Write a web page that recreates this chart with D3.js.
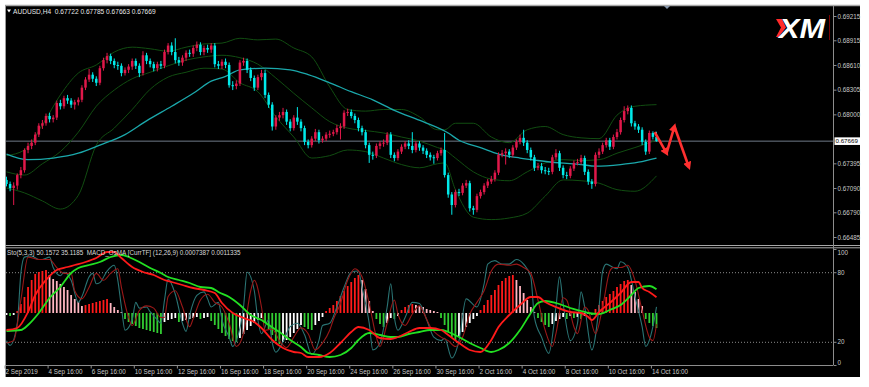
<!DOCTYPE html>
<html>
<head>
<meta charset="utf-8">
<script src="https://cdn.jsdelivr.net/npm/d3@7"></script>
<style>
body { margin: 0; background: #fff; }
svg { display: block; font-family: "Liberation Sans", Arial, sans-serif; }
</style>
</head>
<body>
<svg id="chart" width="869" height="387"></svg>
<script>
// AUDUSD H4 candles, 2 Sep 2019 16:00 .. 14 Oct 2019 20:00 (182 bars)

var firstOpen = 0.6719;

var closes = [
  0.6714,0.6709,0.6712,0.6725,0.6731,0.6756,0.6761,0.6765,0.6775,0.6786,
  0.6789,0.6798,0.6794,0.6796,0.6814,0.6810,0.6820,0.6817,0.6812,0.6815,
  0.6818,0.6833,0.6843,0.6849,0.6844,0.6839,0.6857,0.6867,0.6872,0.6866,
  0.6861,0.6860,0.6851,0.6855,0.6859,0.6866,0.6860,0.6851,0.6873,0.6866,
  0.6862,0.6857,0.6862,0.6860,0.6877,0.6885,0.6877,0.6867,0.6864,0.6870,
  0.6876,0.6875,0.6882,0.6886,0.6877,0.6882,0.6880,0.6885,0.6862,0.6860,
  0.6865,0.6861,0.6836,0.6835,0.6838,0.6864,0.6866,0.6855,0.6845,0.6833,
  0.6846,0.6851,0.6824,0.6812,0.6785,0.6796,0.6799,0.6803,0.6791,0.6783,
  0.6796,0.6791,0.6783,0.6766,0.6762,0.6770,0.6778,0.6768,0.6770,0.6775,
  0.6776,0.6778,0.6783,0.6785,0.6802,0.6803,0.6798,0.6793,0.6783,0.6778,
  0.6762,0.6750,0.6749,0.6761,0.6764,0.6765,0.6775,0.6750,0.6746,0.6754,
  0.6760,0.6764,0.6761,0.6756,0.6764,0.6759,0.6755,0.6750,0.6747,0.6746,
  0.6752,0.6756,0.6725,0.6701,0.6688,0.6704,0.6703,0.6712,0.6715,0.6684,
  0.6682,0.6699,0.6704,0.6712,0.6717,0.6720,0.6728,0.6750,0.6752,0.6754,
  0.6750,0.6759,0.6766,0.6771,0.6765,0.6756,0.6747,0.6734,0.6736,0.6731,
  0.6730,0.6729,0.6747,0.6752,0.6734,0.6725,0.6724,0.6733,0.6740,0.6741,
  0.6746,0.6729,0.6717,0.6714,0.6750,0.6754,0.6762,0.6768,0.6760,0.6772,
  0.6778,0.6793,0.6804,0.6808,0.6789,0.6785,0.6781,0.6766,0.6754,0.6777,
  0.67722,0.67669
];

var highs = [
  0.6723,0.6717,0.6716,0.6727,0.6735,0.6758,0.6765,0.6769,0.6778,0.6789,
  0.6793,0.6801,0.6802,0.6799,0.6817,0.6818,0.6823,0.6824,0.6820,0.6818,
  0.6821,0.6836,0.6846,0.6856,0.6852,0.6847,0.6860,0.6870,0.6876,0.6875,
  0.6869,0.6865,0.6863,0.6858,0.6862,0.6869,0.6869,0.6863,0.6878,0.6876,
  0.6869,0.6865,0.6865,0.6866,0.6880,0.6888,0.6889,0.6894,0.6871,0.6873,
  0.6879,0.6880,0.6885,0.6890,0.6889,0.6885,0.6886,0.6888,0.6888,0.6866,
  0.6868,0.6869,0.6864,0.6841,0.6842,0.6867,0.6870,0.6869,0.6858,0.6848,
  0.6849,0.6855,0.6855,0.6827,0.6815,0.6799,0.6803,0.6808,0.6806,0.6794,
  0.6799,0.6809,0.6794,0.6786,0.6769,0.6773,0.6782,0.6781,0.6773,0.6778,
  0.6780,0.6781,0.6787,0.6789,0.6805,0.6807,0.6806,0.6801,0.6796,0.6786,
  0.6781,0.6765,0.6754,0.6764,0.6767,0.6769,0.6778,0.6778,0.6753,0.6757,
  0.6763,0.6767,0.6768,0.6778,0.6767,0.6767,0.6762,0.6758,0.6753,0.6750,
  0.6755,0.6759,0.6777,0.6728,0.6704,0.6707,0.6708,0.6715,0.6719,0.6718,
  0.6687,0.6702,0.6707,0.6715,0.6720,0.6724,0.6731,0.6753,0.6756,0.6758,
  0.6757,0.6762,0.6769,0.6775,0.6781,0.6768,0.6759,0.6750,0.6740,0.6740,
  0.6735,0.6734,0.6750,0.6757,0.6755,0.6737,0.6729,0.6736,0.6743,0.6745,
  0.6750,0.6749,0.6732,0.6720,0.6753,0.6758,0.6765,0.6771,0.6771,0.6775,
  0.6782,0.6796,0.6810,0.6811,0.6811,0.6792,0.6788,0.6784,0.6769,0.6780,
  0.6779,0.67785
];

var lows = [
  0.6711,0.6705,0.6688,0.6707,0.6721,0.6728,0.6752,0.6757,0.6762,0.6772,
  0.6782,0.6786,0.6790,0.6790,0.6793,0.6806,0.6807,0.6813,0.6808,0.6806,
  0.6811,0.6815,0.6830,0.6840,0.6840,0.6835,0.6836,0.6854,0.6863,0.6862,
  0.6857,0.6855,0.6847,0.6848,0.6851,0.6855,0.6856,0.6846,0.6848,0.6862,
  0.6858,0.6853,0.6853,0.6856,0.6857,0.6874,0.6873,0.6863,0.6860,0.6860,
  0.6866,0.6871,0.6871,0.6878,0.6873,0.6873,0.6876,0.6876,0.6858,0.6856,
  0.6856,0.6857,0.6833,0.6830,0.6831,0.6835,0.6860,0.6851,0.6841,0.6829,
  0.6830,0.6842,0.6820,0.6808,0.6780,0.6781,0.6792,0.6795,0.6787,0.6779,
  0.6780,0.6787,0.6779,0.6762,0.6758,0.6759,0.6767,0.6764,0.6765,0.6767,
  0.6771,0.6773,0.6775,0.6769,0.6782,0.6798,0.6795,0.6789,0.6779,0.6774,
  0.6758,0.6740,0.6744,0.6746,0.6757,0.6760,0.6762,0.6746,0.6742,0.6743,
  0.6751,0.6757,0.6757,0.6752,0.6753,0.6755,0.6751,0.6746,0.6743,0.6739,
  0.6743,0.6749,0.6722,0.6697,0.6676,0.6685,0.6699,0.6700,0.6709,0.6680,
  0.6676,0.6679,0.6696,0.6701,0.6709,0.6714,0.6717,0.6725,0.6747,0.6738,
  0.6746,0.6747,0.6756,0.6763,0.6761,0.6752,0.6743,0.6730,0.6731,0.6727,
  0.6726,0.6725,0.6726,0.6744,0.6730,0.6721,0.6720,0.6721,0.6730,0.6737,
  0.6738,0.6725,0.6713,0.6708,0.6711,0.6746,0.6751,0.6759,0.6756,0.6757,
  0.6769,0.6775,0.6790,0.6800,0.6785,0.6781,0.6777,0.6762,0.6750,0.6751,
  0.6769,0.67663
];

// Bollinger bands and moving average, read at sample bars
var bandBars = [0,5,10,15,20,25,30,35,40,45,50,55,60,65,70,75,80,85,90,95,100,105,110,115,120,122,125,130,135,140,145,150,155,160,165,170,175,181];
var bbUpper = [0.6749,0.6756,0.6787,0.6824,0.6851,0.6861,0.6877,0.6883,0.6881,0.6878,0.6883,0.6887,0.6888,0.6894,0.6892,0.6893,0.6882,0.6871,0.6834,0.6806,0.6804,0.6806,0.6806,0.6797,0.6781,0.6781,0.6789,0.6789,0.6772,0.6765,0.6781,0.6785,0.6775,0.6771,0.6770,0.6799,0.6810,0.6812];
var bbMiddle = [0.6729,0.6725,0.6739,0.6754,0.6778,0.6810,0.6830,0.6844,0.6852,0.6860,0.6867,0.6871,0.6873,0.6870,0.6862,0.6845,0.6826,0.6808,0.6791,0.6783,0.6780,0.6777,0.6772,0.6767,0.6759,0.6756,0.6746,0.6729,0.6720,0.6718,0.6729,0.6740,0.6744,0.6743,0.6744,0.6752,0.6759,0.6768];
var bbLower = [0.6709,0.6703,0.6693,0.6683,0.6700,0.6762,0.6783,0.6806,0.6831,0.6846,0.6852,0.6857,0.6856,0.6839,0.6828,0.6797,0.6772,0.6746,0.6749,0.6756,0.6754,0.6746,0.6738,0.6734,0.6739,0.6740,0.6707,0.6673,0.6670,0.6672,0.6678,0.6699,0.6719,0.6718,0.6715,0.6707,0.6705,0.6724];

var maBars = [0,6,13,20,26,33,39,46,52,57,61,65,72,79,84,90,96,102,108,116,123,126,132,137,143,148,154,160,164,171,176,181];
var maVals = [0.6751,0.6744,0.6746,0.6752,0.6762,0.6775,0.6792,0.6810,0.6826,0.6841,0.6847,0.6855,0.6857,0.6855,0.6849,0.6839,0.6828,0.6818,0.6805,0.6791,0.6777,0.6768,0.6759,0.6751,0.6746,0.6743,0.6740,0.6738,0.6736,0.6738,0.6741,0.6746];

// Stochastic (5,3,3): [bar, value]
var stochMain = [[0,21],[1,17],[3,36],[4,79],[5,93],[7,94],[9,91],[10,91],[12,93],[13,84],[15,77],[16,80],[18,73],[20,54],[21,59],[23,76],[24,79],[25,70],[26,71],[28,81],[30,86],[31,73],[32,50],[33,30],[35,39],[36,54],[37,49],[39,50],[40,46],[42,39],[43,36],[44,56],[45,74],[47,61],[49,36],[50,29],[51,43],[53,60],[55,63],[56,57],[57,50],[59,54],[60,39],[62,24],[63,16],[64,21],[66,50],[67,80],[69,64],[70,39],[71,27],[73,39],[74,19],[75,11],[77,20],[79,33],[81,36],[83,26],[85,9],[87,21],[88,34],[90,36],[92,50],[94,67],[96,80],[98,81],[99,67],[101,36],[102,13],[104,19],[106,50],[107,70],[108,41],[109,30],[111,41],[113,54],[115,53],[117,39],[119,24],[121,21],[122,23],[124,6],[126,21],[128,57],[131,50],[133,70],[134,87],[136,90],[138,87],[140,87],[142,91],[144,87],[146,76],[147,41],[149,24],[151,10],[153,50],[154,76],[155,53],[157,21],[159,36],[160,63],[161,50],[163,13],[165,50],[166,81],[167,87],[169,84],[170,83],[171,89],[173,84],[175,59],[177,33],[178,16],[180,33],[181,50.16]];
var stochSignal = [[0,19],[2,21],[4,56],[6,93],[9,91],[12,91],[14,84],[16,79],[18,79],[19,64],[21,57],[23,67],[25,79],[27,73],[29,79],[31,83],[32,67],[34,41],[35,34],[37,47],[39,51],[41,49],[43,41],[44,41],[45,59],[47,64],[49,50],[51,33],[52,40],[54,56],[56,61],[58,54],[60,50],[62,36],[64,16],[66,27],[68,64],[69,73],[71,50],[72,30],[74,31],[76,21],[78,15],[80,24],[82,32],[84,27],[86,13],[88,19],[90,30],[91,39],[93,53],[95,73],[97,83],[99,76],[101,53],[103,24],[104,16],[106,36],[108,56],[109,44],[111,34],[113,44],[115,51],[116,46],[118,33],[121,24],[123,21],[125,16],[127,24],[129,44],[131,54],[133,64],[135,81],[137,87],[140,86],[142,87],[144,84],[146,79],[148,56],[150,30],[152,16],[153,27],[155,58],[156,56],[158,33],[159,27],[161,50],[162,47],[164,27],[166,50],[168,81],[169,84],[171,84],[173,86],[175,73],[177,47],[179,24],[180,21],[181,35.12]];

// MACD (12,26,9) main and signal: [bar, value]
var macdMain = [[0,-0.0009],[3,-0.0008],[6,0],[8,0.00085],[11,0.0016],[14,0.0021],[17,0.00225],[19,0.00235],[22,0.0025],[25,0.0027],[28,0.003],[30,0.003],[32,0.0027],[35,0.00225],[38,0.002],[41,0.00185],[44,0.0016],[46,0.0015],[49,0.00135],[52,0.0012],[55,0.0011],[58,0.00095],[60,0.00045],[63,-0.00005],[66,-0.0003],[69,-0.0005],[71,-0.0008],[74,-0.0014],[77,-0.0018],[80,-0.002],[82,-0.00205],[84,-0.00225],[87,-0.00225],[90,-0.00205],[93,-0.00155],[96,-0.001],[98,-0.00075],[101,-0.0009],[104,-0.0013],[107,-0.00135],[109,-0.00125],[112,-0.001],[115,-0.0008],[118,-0.0008],[121,-0.0009],[123,-0.00115],[126,-0.00155],[129,-0.0019],[132,-0.002],[135,-0.0014],[137,-0.00075],[140,-0.00015],[143,0.00035],[146,0.00075],[148,0.00075],[150,0.0005],[153,0.00025],[157,0],[160,-0.00005],[162,-0.00025],[163,-0.0004],[165,0],[168,0.00045],[171,0.00095],[174,0.0015],[176,0.0015],[177,0.0012],[179,0.001],[181,0.0007387]];
var macdSignal = [[0,-0.00095],[4,-0.0009],[6,-0.00065],[9,-0.00005],[12,0.0007],[15,0.00125],[18,0.00195],[20,0.0022],[23,0.00235],[26,0.0025],[29,0.00275],[32,0.00285],[34,0.00275],[37,0.0025],[40,0.0022],[43,0.00195],[45,0.00175],[48,0.0016],[51,0.00145],[54,0.00125],[57,0.0012],[59,0.001],[62,0.00075],[65,0.00035],[68,-0.00015],[71,-0.0004],[73,-0.00065],[76,-0.001],[79,-0.0014],[82,-0.00175],[84,-0.00205],[87,-0.00215],[90,-0.00225],[93,-0.00215],[96,-0.0018],[98,-0.0014],[101,-0.00105],[104,-0.00115],[107,-0.00125],[109,-0.00125],[112,-0.0011],[115,-0.001],[118,-0.0009],[121,-0.0009],[123,-0.001],[126,-0.00125],[129,-0.00155],[132,-0.0018],[135,-0.002],[137,-0.0019],[140,-0.00155],[143,-0.0009],[146,-0.00005],[148,0.00045],[150,0.00055],[153,0.00045],[157,0.0002],[160,0.00005],[162,-0.00005],[165,-0.0001],[168,0.0001],[171,0.00035],[174,0.00085],[176,0.0012],[179,0.0013],[181,0.0011335]];

// OsMA histogram, one value per bar
var osma = [
  -0.00005,-0.000075,-0.00005,0.00005,0.000225,0.0004,0.00065,0.000825,0.000975,0.001025,
  0.00105,0.001075,0.00095,0.00085,0.0008,0.000725,0.00065,0.000575,0.00045,0.00035,
  0.000275,0.000175,0.0002,0.000225,0.00025,0.000275,0.0003,0.000325,0.00035,0.00025,
  0.00015,0.000075,0.000025,-0.00015,-0.000225,-0.000275,-0.000325,-0.000375,-0.0004,-0.000425,
  -0.00045,-0.000475,-0.0005,-0.000525,-0.000225,-0.000175,-0.00015,-0.000125,-0.000225,-0.0002,
  -0.000175,-0.00015,-0.000125,-0.0001,-0.00015,-0.000125,-0.0001,-0.0002,-0.0003,-0.0004,
  -0.0005,-0.000575,-0.00065,-0.0007,-0.000725,-0.000625,-0.000525,-0.000425,-0.000325,-0.00025,
  -0.000175,-0.000125,-0.00025,-0.0004,-0.00055,-0.0007,-0.000775,-0.000725,-0.000675,-0.0006,
  -0.0005,-0.0004,-0.0003,-0.00035,-0.0004,-0.000425,-0.0003,-0.0002,-0.0001,0.00005,
  0.000125,0.0002,0.0003,0.000425,0.00055,0.000675,0.000775,0.000875,0.00095,0.000825,
  0.0006,0.0003,0.00005,-0.00015,-0.000275,-0.00035,-0.00025,-0.000125,-0.00015,-0.000075,
  0.000075,0.00015,0.0002,0.000225,0.0002,0.000175,0.00015,0.0001,0.000075,0.00005,
  0.000025,-0.000125,-0.0003,-0.000475,-0.0006,-0.000675,-0.0006,-0.000475,-0.00035,-0.00025,
  -0.00015,-0.000075,0.000075,0.0002,0.000325,0.00045,0.000575,0.0007,0.0008,0.000875,
  0.000925,0.00095,0.000825,0.000675,0.0005,0.000325,0.00015,0.000025,-0.000125,-0.000225,
  -0.0003,-0.00035,-0.000275,-0.0002,-0.00015,-0.0001,-0.00015,-0.000075,-0.000125,-0.0001,
  -0.00015,-0.000075,-0.000025,-0.00005,0.0001,0.0002,0.0003,0.0004,0.000475,0.00055,
  0.00065,0.000725,0.0008,0.000825,0.0007,0.000525,0.00035,0.000175,-0.00015,-0.00025,
  -0.000325,-0.000375
];

var currentPrice = 0.67669;
var priceTicks = [0.69215, 0.68915, 0.68610, 0.68305, 0.68000, 0.67395, 0.67090, 0.66790, 0.66485];
var stochTicks = [100, 80, 20, 0];
var timeTickBars = [0,12,24,36,48,60,72,84,96,108,120,132,144,156,168,180];
var timeLabels = ["2 Sep 2019","4 Sep 16:00","6 Sep 16:00","10 Sep 16:00","12 Sep 16:00","16 Sep 16:00","18 Sep 16:00","20 Sep 16:00","24 Sep 16:00","26 Sep 16:00","30 Sep 16:00","2 Oct 16:00","4 Oct 16:00","8 Oct 16:00","10 Oct 16:00","14 Oct 16:00"];

// forecast zigzag drawn on the chart: [bar, price]
var forecast = [[180.5,0.6778],[183.8,0.6752],[186,0.6785],[190,0.6735]];

var svg = d3.select("#chart");

var plotL = 6, plotR = 833, mainT = 6, mainB = 245, indT = 248, indB = 365;

var x = d3.scaleLinear().domain([0, 181]).range([6.5, 656.5]);
var y = d3.scaleLinear().domain([0.66485, 0.69215]).range([237, 16]);
var yStoch = d3.scaleLinear().domain([0, 100]).range([365, 249]);
var yMacd = d3.scaleLinear().domain([-0.00265, 0.0032]).range([365, 248]);
var yOsma = d3.scaleLinear().domain([-0.0013, 0.001625]).range([365, 248]);

// black chart window
svg.append("rect").attr("x", 5).attr("y", 5).attr("width", 855).attr("height", 372).attr("fill", "#000");
svg.append("line").attr("x1", 5).attr("x2", 860).attr("y1", 5.5).attr("y2", 5.5).attr("stroke", "#a8a8a8").attr("stroke-width", 1.5);
svg.append("line").attr("x1", 5.5).attr("x2", 5.5).attr("y1", 5).attr("y2", 377).attr("stroke", "#9a9a9a");

var defs = svg.append("defs");
defs.append("clipPath").attr("id", "clipMain").append("rect")
    .attr("x", plotL).attr("y", mainT).attr("width", plotR - plotL).attr("height", mainB - mainT);
defs.append("clipPath").attr("id", "clipInd").append("rect")
    .attr("x", plotL).attr("y", indT).attr("width", plotR - plotL).attr("height", indB - indT);
defs.append("marker").attr("id", "arrowHead")
    .attr("viewBox", "0 0 10 10").attr("refX", 6).attr("refY", 5)
    .attr("markerWidth", 3.2).attr("markerHeight", 3.2).attr("orient", "auto")
    .append("path").attr("d", "M0,0 L10,5 L0,10 z").attr("fill", "#ff3030");

var main = svg.append("g").attr("clip-path", "url(#clipMain)");
var ind = svg.append("g").attr("clip-path", "url(#clipInd)");

// current price line
main.append("line").attr("x1", plotL).attr("x2", plotR)
    .attr("y1", y(currentPrice)).attr("y2", y(currentPrice))
    .attr("stroke", "#6f7a88").attr("stroke-width", 1);

// Bollinger bands
var pairLine = d3.line().x(function (d) { return x(d[0]); }).y(function (d) { return y(d[1]); }).curve(d3.curveMonotoneX);
[bbUpper, bbMiddle, bbLower].forEach(function (band) {
    main.append("path").attr("d", pairLine(d3.zip(bandBars, band)))
        .attr("fill", "none").attr("stroke", "#114d11").attr("stroke-width", 1);
});

// moving average
main.append("path").attr("d", pairLine(d3.zip(maBars, maVals)))
    .attr("fill", "none").attr("stroke", "#1ba8ab").attr("stroke-width", 1.3);

// candles
var bars = closes.map(function (c, i) {
    return { i: i, o: i === 0 ? firstOpen : closes[i - 1], c: c, h: highs[i], l: lows[i] };
});
var bull = "#e0184a", bear = "#00eaea";
var candle = main.selectAll(".candle").data(bars).enter().append("g").attr("class", "candle");
candle.append("line")
    .attr("x1", function (d) { return x(d.i); }).attr("x2", function (d) { return x(d.i); })
    .attr("y1", function (d) { return y(d.h); }).attr("y2", function (d) { return y(d.l); })
    .attr("stroke", function (d) { return d.c >= d.o ? bull : bear; }).attr("stroke-width", 1);
candle.append("rect")
    .attr("x", function (d) { return x(d.i) - 1.25; })
    .attr("width", 2.5)
    .attr("y", function (d) { return y(Math.max(d.o, d.c)); })
    .attr("height", function (d) { return Math.max(1, Math.abs(y(d.o) - y(d.c))); })
    .attr("fill", function (d) { return d.c >= d.o ? bull : bear; });

// forecast zigzag arrows
for (var k = 0; k < forecast.length - 1; k++) {
    main.append("line")
        .attr("x1", x(forecast[k][0])).attr("y1", y(forecast[k][1]))
        .attr("x2", x(forecast[k + 1][0])).attr("y2", y(forecast[k + 1][1]))
        .attr("stroke", "#ff3030").attr("stroke-width", 2.6)
        .attr("marker-end", "url(#arrowHead)");
}

// ----- indicator window -----
[80, 20].forEach(function (v) {
    ind.append("line").attr("x1", plotL).attr("x2", plotR)
        .attr("y1", yStoch(v) + 0.5).attr("y2", yStoch(v) + 0.5)
        .attr("stroke", "#8a8a8a").attr("stroke-dasharray", "1,2");
});

// OsMA histogram: red rising above zero, pink falling above zero, green falling below, white rising below
ind.selectAll(".osma").data(osma).enter().append("rect")
    .attr("x", function (d, i) { return x(i) - 0.9; })
    .attr("width", 1.8)
    .attr("y", function (d) { return Math.min(yOsma(d), yOsma(0)); })
    .attr("height", function (d) { return Math.max(0.6, Math.abs(yOsma(d) - yOsma(0))); })
    .attr("fill", function (d, i) {
        var prev = i === 0 ? d : osma[i - 1];
        if (d >= 0) return d > prev ? "#ff1a1a" : "#ffb6c1";
        return d < prev ? "#32cd32" : "#ffffff";
    });

var stochLine = d3.line().x(function (d) { return x(d[0]); }).y(function (d) { return yStoch(d[1]); }).curve(d3.curveMonotoneX);
ind.append("path").attr("d", stochLine(stochMain)).attr("fill", "none").attr("stroke", "#2a7474").attr("stroke-width", 1.1);
ind.append("path").attr("d", stochLine(stochSignal)).attr("fill", "none").attr("stroke", "#9a1818").attr("stroke-width", 1.1);

var macdLine = d3.line().x(function (d) { return x(d[0]); }).y(function (d) { return yMacd(d[1]); }).curve(d3.curveMonotoneX);
ind.append("path").attr("d", macdLine(macdSignal)).attr("fill", "none").attr("stroke", "#22e022").attr("stroke-width", 1.8);
ind.append("path").attr("d", macdLine(macdMain)).attr("fill", "none").attr("stroke", "#ff1a1a").attr("stroke-width", 1.8);

// separators and axis lines
svg.append("line").attr("x1", 5).attr("x2", 860).attr("y1", 245.5).attr("y2", 245.5).attr("stroke", "#a8a8a8");
svg.append("line").attr("x1", 5).attr("x2", 860).attr("y1", 247.8).attr("y2", 247.8).attr("stroke", "#a8a8a8");
svg.append("line").attr("x1", plotR + 0.5).attr("x2", plotR + 0.5).attr("y1", mainT).attr("y2", indB).attr("stroke", "#8c8c8c");
svg.append("line").attr("x1", plotL).attr("x2", plotR).attr("y1", indB + 0.5).attr("y2", indB + 0.5).attr("stroke", "#8c8c8c");

// price axis
var priceAxis = svg.append("g").attr("transform", "translate(" + (plotR + 0.5) + ",0)")
    .call(d3.axisRight(y).tickValues(priceTicks).tickSize(3).tickFormat(d3.format(".5f")));
priceAxis.select(".domain").remove();
priceAxis.selectAll("line").attr("stroke", "#8c8c8c");
priceAxis.selectAll("text").attr("fill", "#c8c8c8").attr("font-size", 6.3).attr("x", 4).attr("font-family", "Liberation Sans, Arial, sans-serif");

// current price label
svg.append("rect").attr("x", plotR + 1.5).attr("y", y(currentPrice) - 3.8).attr("width", 25.5).attr("height", 7.6).attr("fill", "#fff");
svg.append("text").attr("x", plotR + 2.5).attr("y", y(currentPrice) + 2.2)
    .attr("font-size", 6.2).attr("fill", "#000").text(d3.format(".5f")(currentPrice));

// stochastic axis
var stochAxis = svg.append("g").attr("transform", "translate(" + (plotR + 0.5) + ",0)")
    .call(d3.axisRight(yStoch).tickValues(stochTicks).tickSize(3));
stochAxis.select(".domain").remove();
stochAxis.selectAll("line").attr("stroke", "#8c8c8c");
stochAxis.selectAll("text").attr("fill", "#c8c8c8").attr("font-size", 6.3).attr("x", 4)
    .attr("dy", function (d) { return d === 100 ? "0.9em" : d === 0 ? "-0.1em" : "0.32em"; });

// time axis
var timeAxis = svg.append("g").attr("transform", "translate(0," + (indB + 0.5) + ")")
    .call(d3.axisBottom(x).tickValues(timeTickBars).tickSize(3)
        .tickFormat(function (d, i) { return timeLabels[i]; }));
timeAxis.select(".domain").remove();
timeAxis.selectAll(".tick").attr("transform", function (d) { return "translate(" + (x(d) - 1.5) + ",0)"; });
timeAxis.selectAll("line").attr("stroke", "#8c8c8c");
timeAxis.selectAll("text").attr("fill", "#c8c8c8").attr("font-size", 6.3)
    .attr("text-anchor", "start").attr("x", 0.5).attr("y", 4).attr("dy", "0.71em");

// headers
svg.append("path").attr("d", "M7,9.5 L11,9.5 L9,12.5 Z").attr("fill", "#fff");
svg.append("text").attr("x", 13).attr("y", 13.8).attr("font-size", 6.6).attr("fill", "#e6e6e6")
    .attr("xml:space", "preserve")
    .text("AUDUSD,H4  0.67722 0.67785 0.67663 0.67669");
svg.append("text").attr("x", 7).attr("y", 254.5).attr("font-size", 6.3).attr("fill", "#d8d8d8")
    .attr("xml:space", "preserve")
    .text("Sto(5,3,3) 50.1572 35.1185  MACD_OsMA [CurrTF] (12,26,9) 0.0007387 0.0011335");

// chart shift marker
svg.append("path").attr("d", "M664,6 L670,6 L667,9 Z").attr("fill", "#8898ad");

// XM logo
svg.append("path").attr("d", "M776,19 L782,19 L786,27.5 L778.5,37 L776,37 L781,27.5 Z").attr("fill", "#ff2a2a");
svg.append("text").attr("x", 779).attr("y", 37.5).attr("font-size", 27).attr("font-weight", "bold")
    .attr("font-style", "italic").attr("fill", "#fff")
    .attr("textLength", 46).attr("lengthAdjust", "spacingAndGlyphs").text("XM");
svg.append("line").attr("x1", 829.5).attr("x2", 829.5).attr("y1", 15).attr("y2", 40).attr("stroke", "#7a0000");
</script>
</body>
</html>
